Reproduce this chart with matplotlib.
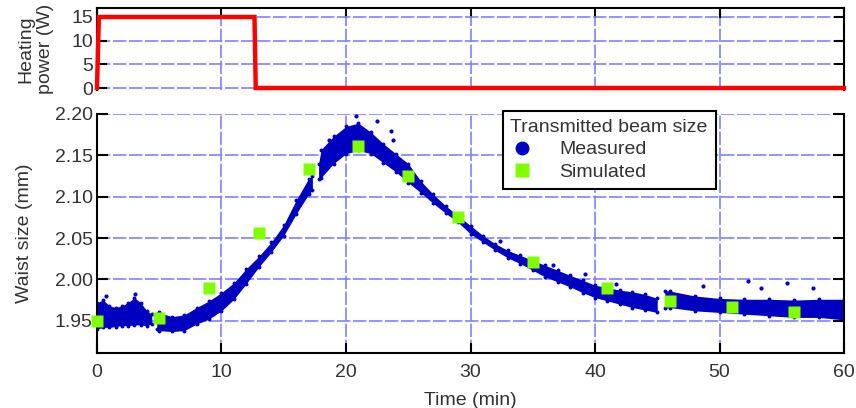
import matplotlib.pyplot as plt
from matplotlib.lines import Line2D

plt.rcParams['font.family'] = ['Liberation Sans', 'DejaVu Sans']

# heating power step (W)
power_t = [0, 0.15, 12.65, 12.75, 60]
power_w = [0, 15, 15, 0, 0]

# measured waist size, read as a band (lower / upper edge) per segment
seg1_t = [0, 0.5, 1, 1.5, 2, 2.5, 3, 3.5, 4, 4.4]
seg1_lo = [1.940, 1.942, 1.942, 1.943, 1.944, 1.944, 1.945, 1.945, 1.944, 1.946]
seg1_hi = [1.972, 1.975, 1.968, 1.966, 1.968, 1.972, 1.978, 1.972, 1.962, 1.958]

seg2_t = [4.8, 5, 6, 7, 8, 9, 10, 11, 12, 13, 14, 15, 16, 17, 17.3]
seg2_lo = [1.940, 1.938, 1.937, 1.938, 1.946, 1.952, 1.962, 1.976, 1.995, 2.015, 2.033, 2.053, 2.079, 2.103, 2.108]
seg2_hi = [1.958, 1.960, 1.955, 1.957, 1.966, 1.974, 1.984, 1.996, 2.013, 2.028, 2.045, 2.066, 2.096, 2.122, 2.125]

seg3_t = [17.8, 18, 19, 20, 21, 22, 23, 24, 25, 26, 27, 28, 29, 30, 31,
          32, 33, 34, 35, 36, 37, 38, 39, 40, 41, 42, 43, 44, 45]
seg3_lo = [2.121, 2.123, 2.140, 2.152, 2.156, 2.152, 2.141, 2.130, 2.117, 2.105, 2.092, 2.080, 2.069, 2.055, 2.045,
           2.035, 2.026, 2.019, 2.011, 2.003, 1.997, 1.991, 1.984, 1.978, 1.974, 1.970, 1.966, 1.963, 1.960]
seg3_hi = [2.140, 2.157, 2.173, 2.185, 2.189, 2.178, 2.164, 2.152, 2.140, 2.119, 2.103, 2.089, 2.077, 2.065, 2.053,
           2.043, 2.035, 2.029, 2.023, 2.017, 2.011, 2.005, 1.999, 1.993, 1.990, 1.987, 1.985, 1.982, 1.977]

seg4_t = [45.6, 46, 48, 50, 52, 54, 56, 58, 60]
seg4_lo = [1.965, 1.966, 1.962, 1.960, 1.958, 1.956, 1.954, 1.954, 1.951]
seg4_hi = [1.986, 1.986, 1.980, 1.977, 1.976, 1.976, 1.975, 1.976, 1.976]

# stray measured points
out_t = [0.7, 3.05, 18.6, 20.8, 22.5, 23.6, 23.8, 32.4, 36.6, 39.2, 41.7, 48.7, 52.3, 53.3, 55.4, 57.5]
out_v = [1.980, 1.982, 2.169, 2.197, 2.191, 2.180, 2.169, 2.047, 2.018, 2.006, 1.994, 1.992, 1.998, 1.990, 1.996, 1.990]

# simulated
sim_t = [0, 5, 9, 13, 17, 21, 25, 29, 35, 41, 46, 51, 56]
sim_v = [1.950, 1.953, 1.990, 2.056, 2.133, 2.161, 2.125, 2.075, 2.021, 1.990, 1.974, 1.967, 1.961]

blue = '#0000c0'
green = '#80ff00'
gridc = '#8080ff'
txt = '#333333'
fs = 14
grid_ls = (0, (8, 1.6))

fig = plt.figure(figsize=(8.56, 4.08), dpi=100)
ax1 = fig.add_axes([0.1133, 0.7794, 0.8727, 0.201])
ax2 = fig.add_axes([0.1133, 0.1348, 0.8727, 0.5858])

# top panel
ax1.plot(power_t, power_w, color='#ff0000', lw=3.2, solid_joinstyle='miter', zorder=3, clip_on=False)
ax1.set_xlim(0, 60)
ax1.set_ylim(-0.42, 16.9)
ax1.set_yticks([0, 5, 10, 15])
ax1.set_xticks(range(0, 61, 10))
ax1.tick_params(axis='x', which='both', bottom=False, top=True, labelbottom=False,
                direction='in', length=7, width=1.5)
ax1.tick_params(axis='y', left=True, right=True, direction='in', length=7, width=1.5,
                labelsize=fs, labelcolor=txt, pad=3)
ax1.spines['bottom'].set_visible(False)
for s in ['top', 'left', 'right']:
    ax1.spines[s].set_linewidth(1.5)
ax1.grid(True, color=gridc, lw=1.2, ls=grid_ls)
ax1.set_axisbelow(True)
ax1.set_ylabel('Heating\npower (W)', fontsize=fs, color=txt, linespacing=1.15)
ax1.yaxis.set_label_coords(-0.058, 0.5)

# bottom panel
for t, lo, hi in [(seg1_t, seg1_lo, seg1_hi), (seg2_t, seg2_lo, seg2_hi),
                  (seg3_t, seg3_lo, seg3_hi), (seg4_t, seg4_lo, seg4_hi)]:
    ax2.fill_between(t, lo, hi, color=blue, lw=0, zorder=2)
    ax2.plot(t, lo, 'o', color=blue, ms=1.8, zorder=2)
    ax2.plot(t, hi, 'o', color=blue, ms=1.8, zorder=2)
ax2.plot(out_t, out_v, 'o', color=blue, ms=2.0, zorder=2)
ax2.plot(sim_t, sim_v, 's', color=green, ms=9, mec='none', zorder=4, clip_on=False)

ax2.set_xlim(0, 60)
ax2.set_ylim(1.911, 2.20)
ax2.set_xticks(range(0, 61, 10))
ax2.set_yticks([1.95, 2.00, 2.05, 2.10, 2.15, 2.20])
ax2.set_yticklabels(['1.95', '2.00', '2.05', '2.10', '2.15', '2.20'])
ax2.tick_params(axis='x', top=False, bottom=True, direction='in', length=7, width=1.5,
                labelsize=fs, labelcolor=txt, pad=8)
ax2.tick_params(axis='y', left=True, right=True, direction='in', length=8, width=1.5,
                labelsize=fs, labelcolor=txt, pad=3)
ax2.spines['top'].set_visible(False)
for s in ['bottom', 'left', 'right']:
    ax2.spines[s].set_linewidth(1.5)
ax2.grid(True, color=gridc, lw=1.2, ls=grid_ls)
ax2.set_axisbelow(True)
ax2.set_ylabel('Waist size (mm)', fontsize=fs, color=txt)
ax2.yaxis.set_label_coords(-0.085, 0.5)
ax2.set_xlabel('Time (min)', fontsize=fs, color=txt, labelpad=8)

handles = [Line2D([], [], ls='none', marker='o', color=blue, ms=9, label='Measured'),
           Line2D([], [], ls='none', marker='s', color=green, mec='none', ms=10, label='Simulated')]
leg = ax2.legend(handles=handles, title='Transmitted beam size', loc='upper left',
                 bbox_to_anchor=(0.543, 1.012), fontsize=fs, title_fontsize=fs,
                 frameon=True, fancybox=False, framealpha=1, edgecolor='black',
                 borderpad=0.4, labelspacing=0.25, handletextpad=1.3, handlelength=1.2,
                 borderaxespad=0)
leg._legend_box.align = 'left'
leg.get_frame().set_linewidth(1.5)
leg.get_title().set_color(txt)
for tx in leg.get_texts():
    tx.set_color(txt)
leg.set_zorder(5)

fig.savefig('out.png', dpi=100)
